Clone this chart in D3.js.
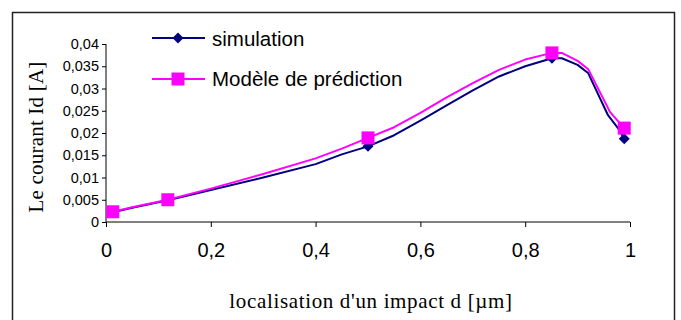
<!DOCTYPE html>
<html>
<head>
<meta charset="utf-8">
<script src="https://cdn.jsdelivr.net/npm/d3@7"></script>
<style>
  html, body { margin: 0; padding: 0; background: #fff; }
  svg { display: block; }
</style>
</head>
<body>
<svg id="chart" width="681" height="320"></svg>
<script>
// ---- data ----
const simX = [0.013, 0.05, 0.118, 0.2, 0.3, 0.4, 0.45, 0.5, 0.55, 0.6, 0.65, 0.7, 0.75, 0.8, 0.851, 0.87, 0.9, 0.92, 0.958, 0.977, 0.989];
const simY = [0.0022, 0.0032, 0.0049, 0.0072, 0.0100, 0.0130, 0.0152, 0.0170, 0.0195, 0.0228, 0.0262, 0.0296, 0.0327, 0.0350, 0.0368, 0.0368, 0.0353, 0.0335, 0.0240, 0.0211, 0.0187];
const predX = [0.013, 0.05, 0.118, 0.2, 0.3, 0.4, 0.45, 0.5, 0.55, 0.6, 0.65, 0.7, 0.75, 0.8, 0.851, 0.87, 0.9, 0.92, 0.962, 0.989];
const predY = [0.0023, 0.0033, 0.0050, 0.0075, 0.0108, 0.0143, 0.0165, 0.0189, 0.0213, 0.0245, 0.0280, 0.0312, 0.0342, 0.0365, 0.0380, 0.0380, 0.0362, 0.0344, 0.0247, 0.0211];
const markerX = [0.013, 0.118, 0.5, 0.851, 0.989];
const xTicks = [0, 0.2, 0.4, 0.6, 0.8, 1];
const yTicks = [0, 0.005, 0.01, 0.015, 0.02, 0.025, 0.03, 0.035, 0.04];
const seriesNames = ["simulation", "Modèle de prédiction"];
const xTitle = "localisation d'un impact d [µm]";
const yTitle = "Le courant Id [A]";

// ---- drawing ----
const svg = d3.select("#chart");
const simColor = "#000080", predColor = "#FF00FF";
const fmt = d => String(d).replace(".", ",");

const x = d3.scaleLinear().domain([0, 1]).range([106, 630]);
const y = d3.scaleLinear().domain([0, 0.04]).range([222, 44]);

// outer frame
svg.append("rect").attr("x", 12.5).attr("y", 12.5).attr("width", 662).attr("height", 330)
  .attr("fill", "none").attr("stroke", "#222").attr("stroke-width", 1.5);

// y axis
const yAxis = svg.append("g").attr("transform", "translate(106,0)")
  .call(d3.axisLeft(y).tickValues(yTicks).tickFormat(fmt).tickSize(4).tickPadding(3));
yAxis.selectAll("text").attr("font-family", "Arial, 'Liberation Sans', sans-serif").attr("font-size", 14.5).attr("fill", "#000");
yAxis.selectAll("line,path").attr("stroke", "#000");
yAxis.select(".domain").attr("d", "M0,222V44");

// x axis
const xAxis = svg.append("g").attr("transform", "translate(0,222)")
  .call(d3.axisBottom(x).tickValues(xTicks).tickFormat(fmt).tickSize(5).tickPadding(16));
xAxis.selectAll("text").attr("font-family", "Arial, 'Liberation Sans', sans-serif").attr("font-size", 20).attr("fill", "#000");
xAxis.selectAll("line,path").attr("stroke", "#000");
xAxis.select(".domain").attr("d", "M106,0H630");

// titles
svg.append("text").attr("x", 371).attr("y", 308).attr("text-anchor", "middle")
  .attr("font-family", "'Liberation Serif', 'Times New Roman', serif").attr("font-size", 21)
  .attr("letter-spacing", 0.65)
  .text(xTitle);
svg.append("text").attr("transform", "translate(43,137) rotate(-90)").attr("text-anchor", "middle")
  .attr("font-family", "'Liberation Serif', 'Times New Roman', serif").attr("font-size", 21)
  .attr("letter-spacing", 0.2)
  .text(yTitle);

// lines
const line = d3.line().x(d => x(d[0])).y(d => y(d[1]));
const simPts = simX.map((v, i) => [v, simY[i]]);
const predPts = predX.map((v, i) => [v, predY[i]]);

svg.append("path").datum(simPts).attr("d", line).attr("fill", "none")
  .attr("stroke", simColor).attr("stroke-width", 2).attr("stroke-linejoin", "round");
svg.append("path").datum(predPts).attr("d", line).attr("fill", "none")
  .attr("stroke", predColor).attr("stroke-width", 2).attr("stroke-linejoin", "round");

const diamond = (cx, cy, r) => `M${cx},${cy - r}L${cx + r},${cy}L${cx},${cy + r}L${cx - r},${cy}Z`;
const lookup = (xs, ys, v) => ys[xs.indexOf(v)];

svg.append("g").selectAll("path").data(markerX).join("path")
  .attr("d", d => diamond(x(d), y(lookup(simX, simY, d)), 5.5))
  .attr("fill", simColor);
svg.append("g").selectAll("rect").data(markerX).join("rect")
  .attr("x", d => x(d) - 6.5).attr("y", d => y(lookup(predX, predY, d)) - 6.5)
  .attr("width", 13).attr("height", 13).attr("fill", predColor);

// legend
const lg = svg.append("g");
const legendRows = [{ name: seriesNames[0], c: simColor, ly: 38, ty: 46 }, { name: seriesNames[1], c: predColor, ly: 79, ty: 86 }];
legendRows.forEach((r, i) => {
  lg.append("line").attr("x1", 152).attr("x2", 205).attr("y1", r.ly).attr("y2", r.ly)
    .attr("stroke", r.c).attr("stroke-width", 2);
  if (i === 0) lg.append("path").attr("d", diamond(178, r.ly, 5.5)).attr("fill", r.c);
  else lg.append("rect").attr("x", 171.5).attr("y", r.ly - 6.5).attr("width", 13).attr("height", 13).attr("fill", r.c);
  lg.append("text").attr("x", 212).attr("y", r.ty)
    .attr("font-family", "Arial, 'Liberation Sans', sans-serif").attr("font-size", 20.5)
    .text(r.name);
});
</script>
</body>
</html>
